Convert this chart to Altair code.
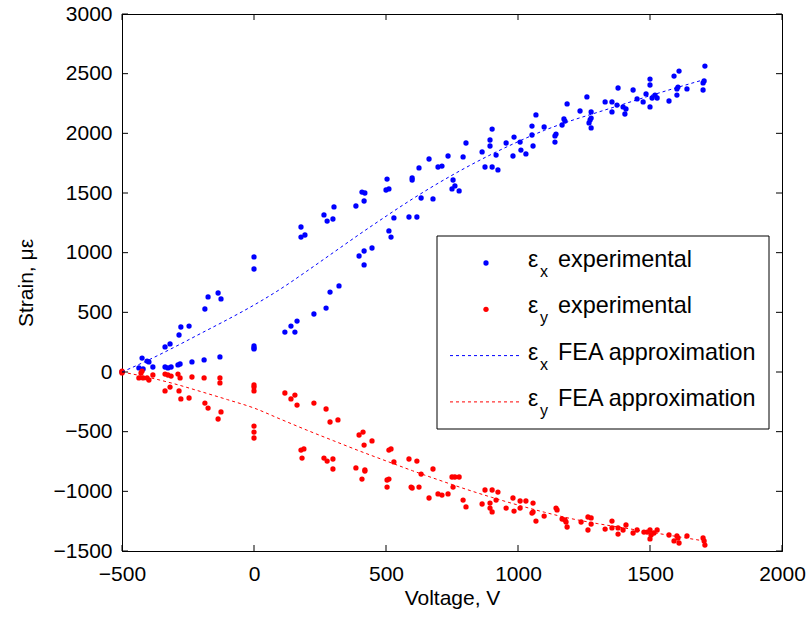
import altair as alt
import pandas as pd

# ---------------- data ----------------
ex_v = [-500, -436, -420, -424, -405, -398, -383, -337, -326, -314, -288, -280, -235, -189, -129,
        -337, -318, -284, -277, -246, -186, -174, -136, -125,
        0, 0, 0, 0, 0,
        117, 140, 155, 163, 227, 273, 288, 322,
        178, 178, 193, 265, 277, 299, 303,
        386, 409, 420, 417, 504, 500, 511, 530, 511, 519, 447, 417, 398, 417,
        587, 617, 599, 599, 625, 633, 663, 678, 697, 712, 735, 754, 761, 750, 777, 792, 803,
        864, 875, 894, 894, 902, 902, 917, 924, 955, 981, 985, 1008, 1011, 1030, 1053, 1053, 1057, 1068, 1099,
        1140, 1144, 1140, 1167, 1174, 1178, 1186, 1235, 1261, 1277, 1277, 1273, 1269, 1277,
        1330, 1356, 1356, 1375, 1379, 1398, 1409, 1405, 1436, 1451, 1474, 1485, 1500, 1500, 1500, 1508, 1519, 1527,
        1572, 1591, 1602, 1602, 1606, 1610, 1640, 1701, 1701, 1705, 1708]
ex_s = [0, 34, 25, 117, 92, 84, 42, 42, 34, 42, 59, 67, 84, 101, 126,
        210, 235, 310, 377, 385, 528, 629, 662, 612,
        964, 863, 218, 201, 193,
        335, 385, 335, 427, 486, 536, 670, 721,
        1215, 1131, 1148, 1316, 1265, 1282, 1383,
        1391, 1508, 1500, 1433, 1617, 1525, 1534, 1291, 1182, 1131, 1039, 1014, 972, 897,
        1299, 1299, 1626, 1609, 1710, 1458, 1785, 1450, 1718, 1726, 1810, 1609, 1559, 1534, 1517, 1802, 1919,
        1844, 1718, 1944, 1894, 2036, 1718, 1818, 1693, 1919, 1810, 1969, 1927, 1860, 1827, 2061, 1986, 1894, 2154, 2053,
        1978, 1994, 1927, 2070, 2120, 2103, 2246, 2187, 2305, 2179, 2128, 2112, 2087, 2045,
        2263, 2263, 2179, 2237, 2380, 2221, 2204, 2162, 2363, 2288, 2263, 2330, 2455, 2405, 2221, 2296, 2321, 2296,
        2271, 2480, 2372, 2321, 2388, 2522, 2372, 2363, 2422, 2439, 2564]

ey_v = [-500, -500, -500, -424, -428, -436, -420, -405, -398, -383, -337, -326, -314, -288, -280, -235, -189, -129, -129,
        -337, -318, -284, -277, -246, -186, -174, -125, -136,
        0, 0, 0, 0, 0, 0,
        117, 140, 155, 163, 227, 273, 288, 318,
        178, 189, 182, 265, 277, 299, 299,
        398, 413, 417, 447, 386, 420, 420, 409, 511, 519, 530, 504, 511, 504,
        587, 617, 633, 595, 599, 625, 678, 663, 697, 712, 735, 750, 761, 777, 754, 792, 803,
        875, 902, 924, 864, 894, 894, 902, 917, 955, 981, 985, 1008, 1030, 1008, 1057, 1053, 1057, 1068, 1099,
        1144, 1148, 1167, 1178, 1182, 1186, 1239, 1265, 1277, 1277, 1265,
        1330, 1356, 1356, 1379, 1379, 1398, 1409, 1436, 1451, 1477, 1489, 1500, 1504, 1500, 1515, 1527,
        1572, 1602, 1606, 1591, 1610, 1640, 1701, 1705, 1708]
ey_s = [0, 8, -8, 8, -8, -50, -50, -50, -67, -25, -17, -25, -34, -17, -50, -42, -50, -50, -92,
        -159, -126, -159, -226, -218, -260, -302, -335, -394,
        -109, -126, -159, -453, -503, -553,
        -176, -226, -193, -277, -260, -310, -419, -402,
        -654, -645, -721, -721, -746, -729, -813,
        -528, -503, -612, -578, -804, -821, -830, -897, -654, -645, -754, -905, -897, -964,
        -729, -746, -855, -964, -972, -964, -813, -1056, -1022, -1031, -1022, -880, -880, -880, -964, -1073, -1131,
        -989, -989, -1006, -1106, -1098, -1140, -1173, -1073, -1140, -1056, -1165, -1081, -1081, -1140, -1098, -1182, -1173, -1249, -1207,
        -1140, -1156, -1232, -1240, -1257, -1299, -1257, -1215, -1223, -1274, -1324,
        -1316, -1249, -1307, -1307, -1358, -1324, -1282, -1349, -1324, -1341, -1341, -1324, -1366, -1399, -1349, -1324,
        -1366, -1374, -1391, -1416, -1433, -1374, -1391, -1416, -1450]

fea_v = [-500, -400, -300, -200, -100, 0, 100, 200, 300, 400, 500, 600,
         700, 800, 900, 1000, 1100, 1200, 1300, 1400, 1500, 1600, 1700]
fea_x = [0, 100, 210, 325, 440, 561, 695, 845, 1000, 1155, 1305, 1450,
         1585, 1710, 1825, 1930, 2025, 2105, 2175, 2245, 2315, 2382, 2447]
fea_y = [0, -45, -100, -165, -232, -302, -395, -487, -575, -662, -745, -827,
         -905, -980, -1050, -1115, -1175, -1228, -1270, -1306, -1342, -1378, -1414]

x_ticks = [-500, 0, 500, 1000, 1500, 2000]
y_ticks = [-1500, -1000, -500, 0, 500, 1000, 1500, 2000, 2500, 3000]

legend_main = ["experimental", "experimental", "FEA approximation", "FEA approximation"]
legend_sub = ["x", "y", "x", "y"]
legend_kind = ["point", "point", "line", "line"]
legend_color = ["#0000ff", "#ff0000", "#0000ff", "#ff0000"]

# ---------------- chart ----------------
W, H = 660, 537
FONT = "Liberation Sans"
BLUE, RED = "#0000ff", "#ff0000"
PT = 28

xscale = alt.Scale(domain=[-500, 2000], nice=False, zero=False)
yscale = alt.Scale(domain=[-1500, 3000], nice=False, zero=False)
xaxis = alt.Axis(values=x_ticks, grid=False, ticks=False, tickSize=0, labelPadding=12,
                 titlePadding=3, domainColor="black", labelColor="black", titleColor="black",
                 labelFont=FONT, titleFont=FONT, labelFontSize=21, titleFontSize=21,
                 titleFontWeight="normal", format="d", labelFlush=False)
yaxis = alt.Axis(values=y_ticks, grid=False, ticks=False, tickSize=0, labelPadding=10,
                 titlePadding=17, domainColor="black", labelColor="black", titleColor="black",
                 labelFont=FONT, titleFont=FONT, labelFontSize=21, titleFontSize=21,
                 titleFontWeight="normal", format="d", labelFlush=False)
X = alt.X("V:Q", scale=xscale, axis=xaxis, title="Voltage, V")
Y = alt.Y("S:Q", scale=yscale, axis=yaxis, title="Strain, με")

df_ex = pd.DataFrame({"V": ex_v, "S": ex_s})
df_ey = pd.DataFrame({"V": ey_v, "S": ey_s})
df_fx = pd.DataFrame({"V": fea_v, "S": fea_x})
df_fy = pd.DataFrame({"V": fea_v, "S": fea_y})

pts_x = alt.Chart(df_ex).mark_circle(size=PT, opacity=1, color=BLUE).encode(x=X, y=Y)
pts_y = alt.Chart(df_ey).mark_circle(size=PT, opacity=1, color=RED).encode(x=X, y=Y)
line_x = alt.Chart(df_fx).mark_line(color=BLUE, strokeWidth=1, strokeDash=[3, 3],
                                    interpolate="monotone").encode(x=X, y=Y)
line_y = alt.Chart(df_fy).mark_line(color=RED, strokeWidth=1, strokeDash=[3, 3],
                                    interpolate="monotone").encode(x=X, y=Y)

# inward ticks on all four sides
dfxt = pd.DataFrame({"V": x_ticks})
dfyt = pd.DataFrame({"S": y_ticks})
TK = 6
t_bottom = alt.Chart(dfxt).mark_rule(color="black").encode(x=X, y=alt.value(H), y2=alt.value(H - TK))
t_top = alt.Chart(dfxt).mark_rule(color="black").encode(x=X, y=alt.value(0), y2=alt.value(TK))
t_left = alt.Chart(dfyt).mark_rule(color="black").encode(y=Y, x=alt.value(0), x2=alt.value(TK))
t_right = alt.Chart(dfyt).mark_rule(color="black").encode(y=Y, x=alt.value(W), x2=alt.value(W - TK))

# legend box
one = pd.DataFrame({"k": [0]})
leg_layers = [
    alt.Chart(one).mark_rect(fill="white", stroke="black", strokeWidth=1).encode(
        x=alt.value(315), x2=alt.value(647), y=alt.value(222), y2=alt.value(415))
]
row0, dy = 253, 46.3
for i in range(4):
    base = row0 + i * dy
    if legend_kind[i] == "point":
        leg_layers.append(alt.Chart(one).mark_circle(size=PT, opacity=1, color=legend_color[i]).encode(
            x=alt.value(364), y=alt.value(base - 4)))
    else:
        leg_layers.append(alt.Chart(one).mark_rule(color=legend_color[i], strokeWidth=1, strokeDash=[3, 3]).encode(
            x=alt.value(328), x2=alt.value(400), y=alt.value(base - 4)))
    leg_layers.append(alt.Chart(one).mark_text(text="ε", font=FONT, fontSize=23, align="left",
                                               baseline="alphabetic", color="black").encode(
        x=alt.value(406), y=alt.value(base)))
    leg_layers.append(alt.Chart(one).mark_text(text=legend_sub[i], font=FONT, fontSize=16, align="left",
                                               baseline="alphabetic", color="black").encode(
        x=alt.value(418), y=alt.value(base + 10)))
    leg_layers.append(alt.Chart(one).mark_text(text=legend_main[i], font=FONT, fontSize=23.4, align="left",
                                               baseline="alphabetic", color="black").encode(
        x=alt.value(436), y=alt.value(base)))

chart = alt.layer(pts_x, pts_y, line_x, line_y, t_bottom, t_top, t_left, t_right, *leg_layers).properties(
    width=W, height=H,
    padding={"left": 122, "top": 14, "right": 30, "bottom": 67},
    autosize=alt.AutoSizeParams(type="none"),
    background="white",
).configure_view(stroke="black", strokeWidth=1)

chart.save("out.html", embed_options={"renderer": "svg", "actions": False})
